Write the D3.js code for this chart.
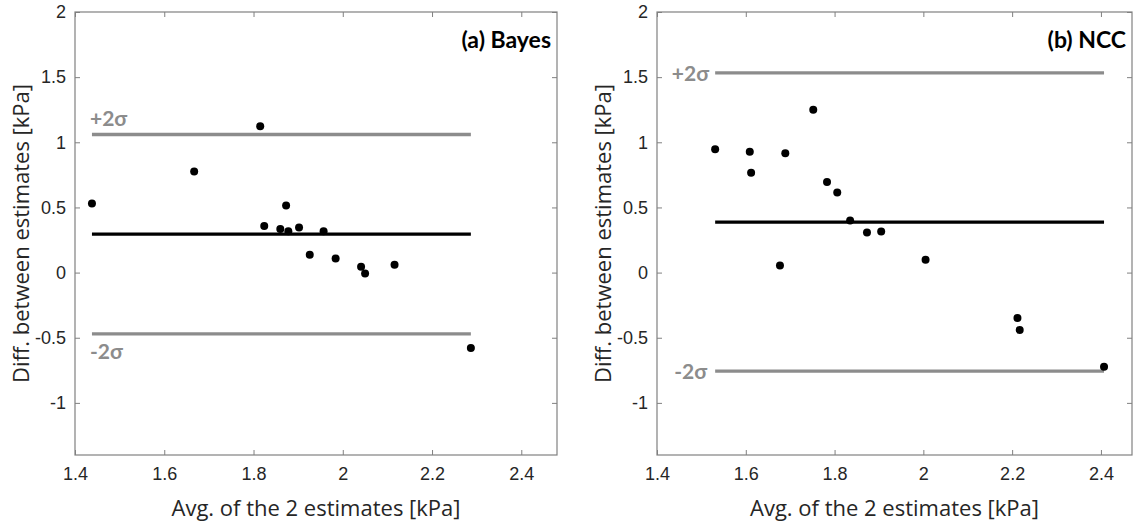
<!DOCTYPE html>
<html>
<head>
<meta charset="utf-8">
<script src="https://cdn.jsdelivr.net/npm/d3@7"></script>
<style>
  body { margin: 0; background: #fff; }
</style>
</head>
<body>
<div class="canvas"></div>
<script>
// Bland-Altman data
const bayesAvg = [1.438, 1.667, 1.815, 1.824, 1.860, 1.873, 1.878, 1.902, 1.926, 1.957, 1.984, 2.041, 2.050, 2.116, 2.287];
const bayesDiff = [0.530, 0.775, 1.124, 0.358, 0.335, 0.514, 0.318, 0.346, 0.136, 0.318, 0.108, 0.044, -0.007, 0.060, -0.579];
const bayesLines = { mean: 0.295, plus: 1.06, minus: -0.471 };

const nccAvg = [1.531, 1.609, 1.612, 1.689, 1.677, 1.752, 1.783, 1.806, 1.835, 1.873, 1.905, 2.005, 2.212, 2.217, 2.407];
const nccDiff = [0.946, 0.928, 0.767, 0.915, 0.055, 1.249, 0.695, 0.614, 0.399, 0.307, 0.315, 0.098, -0.349, -0.441, -0.722];
const nccLines = { mean: 0.387, plus: 1.533, minus: -0.757 };

const xTicks = [1.4, 1.6, 1.8, 2, 2.2, 2.4];
const yTicks = [-1, -0.5, 0, 0.5, 1, 1.5, 2];

const tickFont = '"Liberation Sans", Arial, sans-serif';
const labelFont = '"Open Sans", "Noto Sans", sans-serif';
const boldFont = 'Lato, "Open Sans", sans-serif';

const svg = d3.select('.canvas')
    .append('svg')
    .attr('width', 1136)
    .attr('height', 523);

const drawPanel = (opts) => {
    const { left, right, top, bottom, xMax, avg, diff, lines, title, sigmaPos } = opts;
    const x = d3.scaleLinear().domain([1.4, xMax]).range([left, right]);
    const y = d3.scaleLinear().domain([-1.4, 2]).range([bottom, top]);
    const g = svg.append('g');
    const fmt = d => String(d);   // plain hyphen minus, like matlab

    // box with inward ticks on all four sides
    const axisStyle = sel => {
        sel.select('.domain').remove();
        sel.selectAll('line').attr('stroke', '#808080');
        sel.selectAll('text')
            .attr('fill', '#262626')
            .style('font-family', tickFont)
            .style('font-size', '18px');
    };
    g.append('g').attr('transform', `translate(0,${bottom})`)
        .call(d3.axisBottom(x).tickValues(xTicks).tickSizeInner(-5).tickSizeOuter(0).tickPadding(12).tickFormat(fmt))
        .call(axisStyle);
    g.append('g').attr('transform', `translate(0,${top})`)
        .call(d3.axisTop(x).tickValues(xTicks).tickSizeInner(-5).tickSizeOuter(0).tickFormat(''))
        .call(axisStyle);
    g.append('g').attr('transform', `translate(${left},0)`)
        .call(d3.axisLeft(y).tickValues(yTicks).tickSizeInner(-5).tickSizeOuter(0).tickPadding(9).tickFormat(fmt))
        .call(axisStyle);
    g.append('g').attr('transform', `translate(${right},0)`)
        .call(d3.axisRight(y).tickValues(yTicks).tickSizeInner(-5).tickSizeOuter(0).tickFormat(''))
        .call(axisStyle);
    g.append('rect')
        .attr('x', left).attr('y', top)
        .attr('width', right - left).attr('height', bottom - top)
        .attr('fill', 'none').attr('stroke', '#808080').attr('stroke-width', 1.2);

    // mean and +-2 sigma lines, spanning the data range
    const x0 = d3.min(avg), x1 = d3.max(avg);
    [['plus', '#8c8c8c'], ['minus', '#8c8c8c'], ['mean', '#000']].forEach(([k, c]) => {
        g.append('line')
            .attr('x1', x(x0)).attr('x2', x(x1))
            .attr('y1', y(lines[k])).attr('y2', y(lines[k]))
            .attr('stroke', c).attr('stroke-width', 3.3);
    });

    const pts = avg.map((a, i) => ({ a, d: diff[i] }));
    g.selectAll('circle')
        .data(pts)
        .enter()
        .append('circle')
        .attr('cx', d => x(d.a))
        .attr('cy', d => y(d.d))
        .attr('r', 4)
        .attr('fill', '#000');

    // sigma labels
    const sig = g.append('g')
        .style('font-family', boldFont)
        .style('font-weight', 'bold')
        .style('font-size', '21px')
        .attr('fill', '#8c8c8c');
    if (sigmaPos === 'above') {
        sig.append('text').attr('x', x(x0) - 2).attr('y', y(lines.plus) - 8).text('+2σ');
        sig.append('text').attr('x', x(x0) - 2).attr('y', y(lines.minus) + 25).text('-2σ');
    } else {
        sig.append('text').attr('x', x(x0) - 6).attr('y', y(lines.plus) + 8).attr('text-anchor', 'end').text('+2σ');
        sig.append('text').attr('x', x(x0) - 8).attr('y', y(lines.minus) + 8).attr('text-anchor', 'end').text('-2σ');
    }

    g.append('text')
        .attr('x', right - 6).attr('y', top + 36)
        .attr('text-anchor', 'end')
        .style('font-family', boldFont)
        .style('font-weight', 'bold')
        .style('font-size', '23px')
        .attr('fill', '#000')
        .text(title);

    g.append('text')
        .attr('x', (left + right) / 2).attr('y', 516)
        .attr('text-anchor', 'middle')
        .style('font-family', labelFont)
        .style('font-size', '22px')
        .attr('fill', '#262626')
        .text('Avg. of the 2 estimates [kPa]');

    g.append('text')
        .attr('transform', `translate(${left - 46},${(top + bottom) / 2}) rotate(-90)`)
        .attr('text-anchor', 'middle')
        .style('font-family', labelFont)
        .style('font-size', '22px')
        .attr('fill', '#262626')
        .text('Diff. between estimates [kPa]');
};

drawPanel({ left: 75, right: 557, top: 12, bottom: 455, xMax: 2.48,
    avg: bayesAvg, diff: bayesDiff, lines: bayesLines, title: '(a) Bayes', sigmaPos: 'above' });
drawPanel({ left: 657, right: 1132, top: 12, bottom: 455, xMax: 2.47,
    avg: nccAvg, diff: nccDiff, lines: nccLines, title: '(b) NCC', sigmaPos: 'left' });
</script>
</body>
</html>
